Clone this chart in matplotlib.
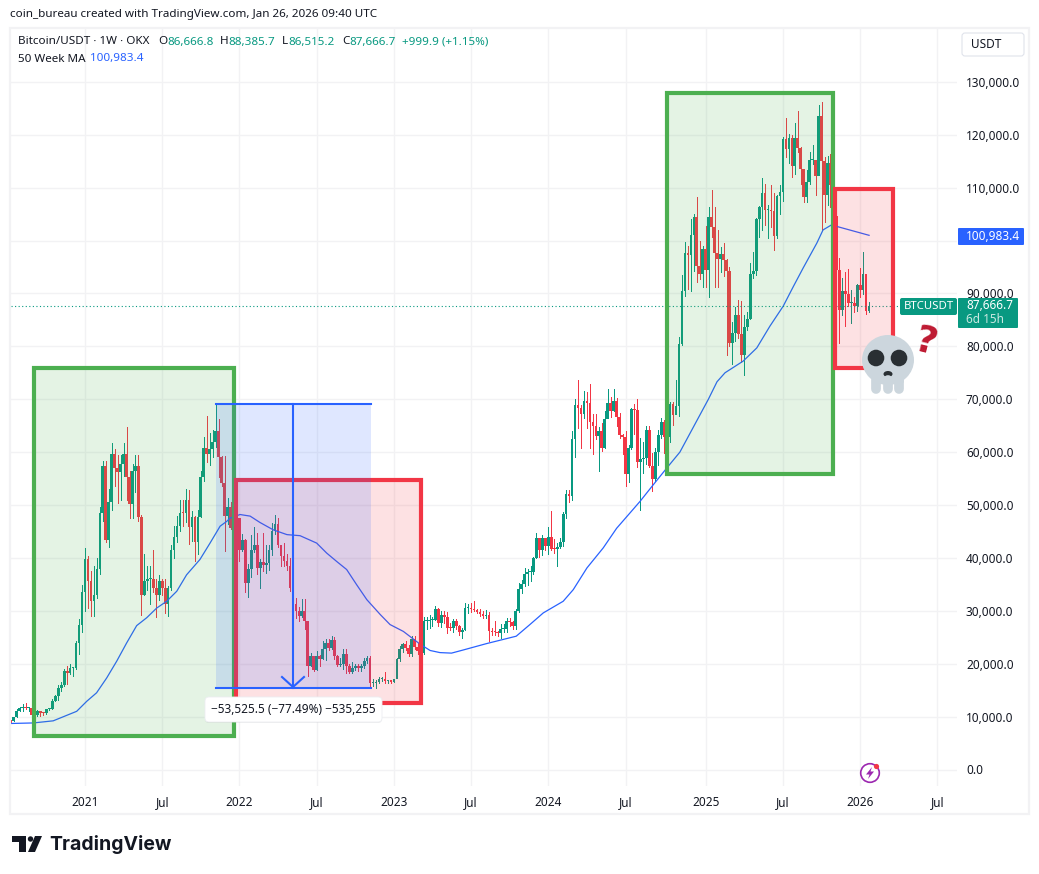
import numpy as np
import matplotlib
matplotlib.use("Agg")
import matplotlib.pyplot as plt
from matplotlib.patches import Rectangle, FancyBboxPatch, Ellipse, Circle, Polygon

# ---- weekly candles, prices in thousands of USD ----
closes_2020 = [9.17,9.93,11.07,11.68,11.86,11.65,11.71,10.25,10.33,11.08,10.73,10.67,11.37,11.5,13.03,13.8,15.48,16.0,18.68,18.18,19.15,19.27,23.86,27.4,33.6]
highs_2020 = [9.35,10,11.4,11.9,12.45,12.48,11.8,12.06,10.58,11.18,10.99,10.95,11.44,11.72,13.35,14.1,15.96,16.48,18.97,19.5,19.92,19.42,24.3,28.4,34.8]
lows_2020 = [9.05,9.1,9.9,11.0,11.13,11.38,11.12,9.88,9.82,10.2,10.13,10.37,10.53,11.17,11.42,12.9,13.2,14.8,15.8,16.2,18.1,17.6,19.0,21.9,25.9]

closes_2021 = [39.7,35.6,31.8,32.9,37.9,48.5,57.3,43.3,50.5,59.7,57.0,56.2,57.8,59.7,55.3,50.1,56.4,57.4,47.7,33.0,35.6,36.0,36.0,34.3,33.0,35.6,34.3,31.2,34.3,41.4,44.0,46.1,48.5,48.4,50.9,45.8,47.7,43.1,47.7,55.3,60.7,59.7,60.5,62.0,64.0,59.0,54.2,47.9,49.7,45.6,49.7,47.5]
highs_2021 = [41.9,40.4,37.5,38.5,40,49.7,58.4,58.3,53,61.8,60.6,59.5,59.5,61.8,64.8,56.5,57.8,59.5,59.5,48.2,40.8,38.5,38.5,41.4,36,36.8,36,36,34.6,42.5,46,47.9,51,51,53,52.9,48.8,48,49,56.4,62.9,66.9,63.6,64.2,69,66.3,59.2,59.2,51.3,50.5,51.9,48.5]
lows_2021 = [30,30.5,29.1,29.1,32.5,37,47,43,42,49,53.5,50.3,51,55.5,51,47.5,47.5,52.5,47,29.2,33,34,31.2,33.5,28.8,32,33,29.5,29.1,34,40,43,45,46,46.8,42.7,43.2,39.5,40.8,47.7,54.5,58.2,57.5,59,61,55.3,53.5,41.3,46.5,45.5,45.5,45.6]

closes_2022 = [41.5,43.4,35.2,37.9,41.5,42.4,38.1,39.2,38.6,39.1,41.4,45,46.5,42.5,40.3,39.5,38.4,34.3,31.3,30,29,30,28,19.6,21.4,18.9,21.4,20.9,22.8,23.9,23,24.5,21.4,19.8,20,21.8,19.5,18.5,19.2,19.5,19.2,19.6,20.6,21,16.3,16.3,16.5,17.1,17.1,16.75,16.85,16.6]
highs_2022 = [47.5,44.5,43.5,38.9,44.4,45.8,44.7,39.8,44.7,42.5,42.4,46.6,48.2,47.5,42.5,42.9,40.8,40,36.6,32.5,30.7,32.3,32.3,28,22,21.5,22.4,21.6,24.3,24.7,24.7,25.2,25,21.7,21,22.8,22.8,20,20.4,20,19.9,19.9,21,21.5,21.4,17.2,17,17.4,17.4,18.4,16.95,16.8]
lows_2022 = [39.5,41.3,33.5,32.7,36.3,41.2,37,34.3,37.5,37.2,37.8,40.5,44.5,42,38.5,38.5,37.7,33.7,27,28.7,28,28.8,26.5,17.7,19.5,18.7,18.8,19.5,20.8,20.7,22.6,22.7,20.9,19.5,19.5,19,18.3,18.2,18.2,18.9,18.7,18.7,19.2,20.1,15.6,15.8,15.47,16.3,16.7,16.3,16.3,16.3]

closes_2023 = [17.1,20.9,22.7,23.7,23,21.8,24.6,23.2,22.4,22,28,28,28.2,28.3,30.3,27.6,29.2,28.9,26.8,26.7,28,27.1,25.9,26.3,30.5,30.6,30.3,30.2,29.8,29.4,29.1,29.3,26.1,26,25.9,25.8,26.5,26.6,28,27.9,27.2,30,34.1,35,37,37.4,37.4,40,43.8,41.4,43.7,42.3]
highs_2023 = [17.2,21.1,23.4,23.9,24.2,23.5,25.2,25.2,23.9,22.8,28.8,28.8,29.2,28.8,31,30.5,30,29.9,29.8,27.6,28.4,28.4,27.4,26.8,31.4,31.3,31.5,31.8,30.3,30.3,30,30.2,29.7,26.8,28.1,26.1,27.5,27.5,28.6,28.6,28,30.3,35.2,35.9,38,37.9,38.4,40.2,44.7,43.5,44.3,43.8]
lows_2023 = [16.5,17.3,20.5,22.3,22.5,21.4,21.5,22.8,21.9,19.6,21.9,26.6,26.8,27.2,28.2,27.2,26.9,27.7,25.8,26.3,26,26.5,25.4,24.8,26.3,29.5,29.7,29.9,29.5,29,28.6,28.7,24.2,25.4,25.4,25.3,24.9,26,26,27.2,26.5,26.6,29.7,33.4,34.7,34.8,35.6,36.9,39.9,40.2,40.5,41.4]

closes_2024 = [43.9,41.7,41.6,42,43,48.3,52.1,51.7,62.4,68.9,68.4,67.2,69.6,69.3,65.7,64.9,63.1,64,60.8,66.3,69.3,67.8,69.6,66.6,63.2,62.8,55.9,60.8,68.2,67.9,58.2,58.7,58.9,64.2,57.3,54.9,60,63.2,65.6,62.8,62.9,69,67,68.8,80.4,90.5,97.7,97.2,101.1,104.5,95.1,93.7,98.3]
highs_2024 = [45.9,48.9,43.6,42.8,43.8,48.6,52.8,52.9,64,70,73.7,68.9,71.5,71.3,72.8,67.2,67.2,64.7,65.5,67.7,72,70.5,71.9,70.2,67.3,63.4,63.9,61.4,68.4,69,70,62.7,62,65,64.9,59.8,60.7,64.1,66.5,66,64.5,69.5,69.5,73.6,81.8,93.5,99.8,98.9,104,105,108.3,99.9,99]
lows_2024 = [40.7,41.4,41,38.5,41.8,42.3,47.6,50.5,50.9,59,64.5,60.8,66.4,64.5,60.7,59.6,62.4,56.5,60.2,60.8,66.6,66.7,67.7,65,62.7,59.7,53.5,54.3,60.6,63.4,57.1,49,56.1,57.8,57.2,52.6,54.6,57.5,62.7,59.8,58.9,62,65.2,67.5,66.8,80.2,89.6,90.8,90.5,94.2,92.2,92.8,91.2]

closes_2025 = [94.5,104.5,102.6,97.7,96.5,97.5,96.3,94.2,80.7,82.6,86,82.4,78.3,83.7,85.2,93.7,94.3,104,106.4,109,105.7,105.7,105.6,100.9,108.4,109.2,119.1,117.3,119.4,114,119.3,117.4,113.5,108.2,111.1,115.3,115.3,112.1,123.5,115,108.6,114.6,110.5,104.7,94.5,86.9,90.4,89.9,88.2,88.2,87.7,91.5]
highs_2025 = [102.7,106.3,109.6,106.4,102,98.8,99.5,96.5,95,84.6,87.4,88.7,88.5,86,86.5,95.7,97.8,104.2,106.6,111.9,110.7,106.8,110.4,108.9,108.6,110.5,119.5,123.2,120.2,120,122.3,124.5,117.6,113.5,113.4,116.7,118,113.5,125.7,126.2,115.8,116,116.4,111,107,96.6,93,94.1,94.6,90.6,89.4,91.8]
lows_2025 = [91.2,89.3,100.7,91.2,91.2,94,93.3,78.3,80,76.6,81,81.6,77.1,74.5,83,85.1,92.9,93.4,100.7,102,103,100.4,102.6,98.2,100.4,105.1,107.5,115.7,114.7,112,112.6,116.8,110.7,107.3,107.3,110.6,114.4,108.6,112.6,102,103.5,106.7,106.3,98.9,93,80.6,86,83.8,87.6,84.4,86.4,86.7]

closes_2026 = [90.6,93.6,86.6668,87.6667]
highs_2026 = [94.8,97.9,93.6,88.3857]
lows_2026 = [89.3,89.9,86.1,86.5152]
first_open = 9.3

# 50 week moving average (week number, thousand USD)
ma_weeks = [-25,-17.4,-10.7,-2.8,0.6,3.9,7.3,10.7,14,17.4,20.8,24.1,27.5,30.9,34.2,38.7,42.1,45.5,47.7,48.8,52.2,55.6,58.9,63.4,68,72.4,78,81.4,84.8,88.1,91.5,94.9,99.4,102.7,107.2,112.8,116.2,119.5,123.4,127.4,135.2,145.2,149.8,154.3,161,164.4,169,174.5,179,183.5,186.9,191.3,195.9,200.3,209.9,212.8,215.5,221.6,226.2,230.6,235.1,238.5,241.8,246.4,248.5,251.5,253.5,264]
ma_values = [8.7,8.8,9.2,11,12.9,14.5,17.3,20.5,23.9,27.2,28.7,30.5,31.8,33.7,36.8,39.7,42.8,46,46.9,47.5,48.2,47.9,46.7,45.3,44.4,44.2,42.8,40.9,39.3,37.8,34.9,32.1,29.3,27.4,26.1,23.7,22.5,22.1,22,22.6,23.8,25.2,27.4,29.6,31.8,34,38.1,41.9,45.6,48.5,50.7,53.8,57,60,70,73.3,75,77.2,79.7,83.8,87.6,91.3,94.8,99.5,102,103,102.6,100.98]

tick_weeks = [0,26,52,78,104,130,156,182,209,235,261,287]
tick_names = ["2021","Jul","2022","Jul","2023","Jul","2024","Jul","2025","Jul","2026","Jul"]
price_ticks = [0,10,20,30,40,50,60,70,80,90,100,110,120,130]
hidden_price_tick = 100
last_price = 87.6667
first_week = -25

UP, DOWN, BLUE, GREEN = "#089981", "#f23645", "#2962ff", "#4caf50"
GRID = "#f2f2f4"
INK = "#131722"
FS = 8.5

plt.rcParams["font.family"] = ["Noto Sans", "DejaVu Sans"]
W, H = 1039, 874
fig = plt.figure(figsize=(W/100, H/100), dpi=100, facecolor="white")
L, R, T, B = 10, 956.5, 28, 786
ax = fig.add_axes([L/W, 1-B/H, (R-L)/W, (B-T)/H])
ax.set_xlim((L-85)/2.97, (R-85)/2.97)
ax.set_ylim((769.5-B)/5.29*1000, (769.5-T)/5.29*1000)
for s in ax.spines.values():
    s.set_visible(False)
ax.set_axisbelow(True)
ax.grid(True, color=GRID, lw=1)
ax.set_xticks(tick_weeks, tick_names)
ax.set_yticks([p*1000 for p in price_ticks],
              ["" if p == hidden_price_tick else f"{p*1000:,.1f}" for p in price_ticks])
ax.yaxis.tick_right()
ax.tick_params(axis="both", length=0, labelsize=FS, colors=INK)
ax.tick_params(axis="x", pad=7.5)
ax.tick_params(axis="y", pad=6.8)
for t in ax.get_xticklabels():
    t.set_fontweight("medium")

closes = np.array(closes_2020+closes_2021+closes_2022+closes_2023+closes_2024+closes_2025+closes_2026)*1000
highs = np.array(highs_2020+highs_2021+highs_2022+highs_2023+highs_2024+highs_2025+highs_2026)*1000
lows = np.array(lows_2020+lows_2021+lows_2022+lows_2023+lows_2024+lows_2025+lows_2026)*1000
opens = np.r_[first_open*1000, closes[:-1]]
weeks = np.arange(first_week, first_week+len(closes))
colors = np.where(closes >= opens, UP, DOWN)

ax.vlines(weeks, lows, highs, colors=colors, lw=0.72, zorder=2, antialiased=False)
ax.bar(weeks, np.maximum(np.abs(closes-opens), 190), bottom=np.minimum(opens, closes),
       width=0.9, color=colors, linewidth=0, zorder=3)
ax.plot(ma_weeks, np.array(ma_values)*1000, color=BLUE, lw=0.9, zorder=4, solid_joinstyle="round")
ax.plot([weeks[0], 293.4], [last_price*1000]*2, color=UP, lw=0.8, ls=(0, (1, 2.2)), zorder=4)

def box(x0, x1, p0, p1, col, z):
    ax.add_patch(Rectangle((x0, p0), x1-x0, p1-p0, facecolor=matplotlib.colors.to_rgba(col, 0.15),
                           edgecolor=col, lw=3, zorder=z, joinstyle="miter"))

box(-17.2, 50.0, 6300, 75900, GREEN, 5)
box(195.8, 251.7, 55800, 127900, GREEN, 5)
box(50.9, 113.0, 12600, 54800, DOWN, 6)
box(252.5, 272.0, 75900, 109700, DOWN, 6)

# price range measure tool
m0, m1, ptop, pbot, mmid = 44, 96.2, 69000, 15474.5, 70
ax.add_patch(Rectangle((m0, pbot), m1-m0, ptop-pbot, facecolor=BLUE, alpha=0.15, lw=0, zorder=7))
ax.plot([m0, m1], [ptop, ptop], color=BLUE, lw=1.5, zorder=8)
ax.plot([m0, m1], [pbot, pbot], color=BLUE, lw=1.5, zorder=8)
ax.plot([mmid, mmid], [ptop, pbot], color=BLUE, lw=1.5, zorder=8)

# overlay in pixel coordinates for interface furniture
ov = fig.add_axes([0, 0, 1, 1], facecolor="none", zorder=10)
ov.set_xlim(0, W); ov.set_ylim(H, 0); ov.axis("off")

ov.add_patch(Rectangle((10, 28), 1019, 786, fill=False, edgecolor=GRID, lw=1.6))
ov.plot([282, 293, 304], [677, 687, 677], color=BLUE, lw=1.5, solid_joinstyle="miter")

def label(x, y, s, color=INK, size=FS, **kw):
    ov.text(x, y, s, color=color, fontsize=size, va="center", **kw)

label(10, 14.5, "coin_bureau created with TradingView.com, Jan 26, 2026 09:40 UTC", size=8.4)
label(18, 42, "Bitcoin/USDT · 1W · OKX", size=8.4)
for x, s, c in [(158, "O", INK), (167, "86,666.8", UP), (220, "H", INK), (228, "88,385.7", UP),
                (282, "L", INK), (288, "86,515.2", UP), (342, "C", INK), (349, "87,666.7", UP),
                (402, "+999.9 (+1.15%)", UP)]:
    label(x, 42, s, c, size=8.4)
label(18, 59, "50 Week MA", size=8.4)
label(90, 59, "100,983.4", BLUE, size=8.4)

ov.add_patch(FancyBboxPatch((962, 33), 62, 23, boxstyle="round,pad=0,rounding_size=3",
                            fc="white", ec="#e0e3eb", lw=0.8))
label(971, 44.5, "USDT")

ov.add_patch(FancyBboxPatch((958, 228), 66, 17, boxstyle="round,pad=0,rounding_size=1", fc=BLUE, ec="none"))
label(966, 236, "100,983.4", "white", fontweight="bold")
ov.add_patch(FancyBboxPatch((900, 298), 57, 17, boxstyle="round,pad=0,rounding_size=2", fc=UP, ec="none"))
label(904, 306.5, "BTCUSDT", "white", size=8.2, fontweight="bold")
ov.add_patch(FancyBboxPatch((958, 298), 60, 30, boxstyle="round,pad=0,rounding_size=1", fc=UP, ec="none"))
label(966, 305.5, "87,666.7", "white", fontweight="bold")
label(966, 319.5, "6d 15h", "#c8e8e1")

ov.add_patch(FancyBboxPatch((205, 698), 177, 25, boxstyle="round,pad=0,rounding_size=4", fc="#00000012", ec="none"))
ov.add_patch(FancyBboxPatch((205, 697), 177, 25, boxstyle="round,pad=0,rounding_size=4", fc="white", ec="#eceef2", lw=0.6))
ov.text(293.5, 709.5, "−53,525.5 (−77.49%) −535,255", color=INK, fontsize=FS, ha="center", va="center")

# skull
SK = "#ccd6dd"
ov.add_patch(Ellipse((888, 360), 52, 50, fc=SK, ec="none"))
ov.add_patch(FancyBboxPatch((872, 372), 32, 12, boxstyle="round,pad=0,rounding_size=3", fc=SK, ec="none"))
for tx in (876, 888, 899):
    ov.plot([tx, tx], [380, 389], color=SK, lw=7, solid_capstyle="round")
for ex in (876, 899):
    ov.add_patch(Circle((ex, 358), 8.3, fc="#292f33", ec="none"))
ov.add_patch(Ellipse((888, 374), 9, 6, fc="#292f33", ec="none"))
ov.text(925, 343, "?", color="#be1931", fontsize=27, fontweight="bold", family="DejaVu Sans",
        ha="center", va="center", rotation=-14)

# alert icon
ov.add_patch(Circle((870, 773), 9.3, fc="white", ec="#9c27b0", lw=1.2))
ov.add_patch(Polygon([(872, 767), (866, 774.5), (869.5, 774.5), (868, 779), (874, 771.5), (870.5, 771.5)],
                     fc="#9c27b0", ec="none"))
ov.add_patch(Circle((876.5, 766.5), 2.6, fc="#f23645", ec="none"))

# logo
LOGO = "#131722"
ov.add_patch(Polygon([(12, 836), (26, 836), (26, 852), (19, 852), (19, 842), (12, 842)], fc=LOGO, ec="none"))
ov.add_patch(Circle((30.5, 839), 2.7, fc=LOGO, ec="none"))
ov.add_patch(Polygon([(35, 836), (42, 836), (35, 852), (28, 852)], fc=LOGO, ec="none"))
ov.text(49, 844, "TradingView", color=LOGO, fontsize=14, fontweight="bold", family="Inter", va="center")

fig.savefig("out.png", dpi=100)
